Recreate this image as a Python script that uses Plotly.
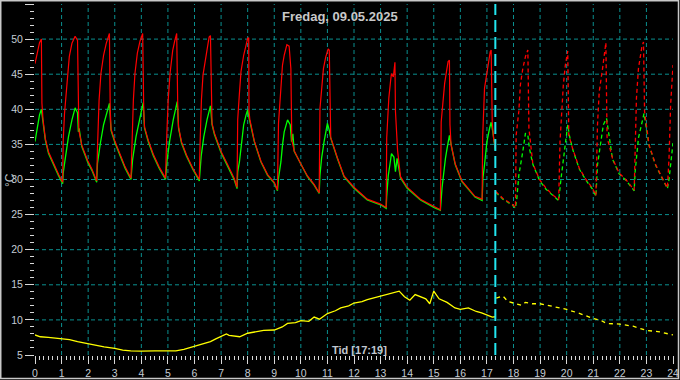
import plotly.graph_objects as go

# ---------------- data ----------------
TITLE = "Fredag, 09.05.2025"
X_LABEL = "Tid [17:19]"
Y_LABEL = "°C"
CURSOR_HOUR = 17 + 19 / 60

X_TICKS = list(range(0, 25))
Y_TICKS = list(range(5, 60, 5))

# measured top sensor (red)
red_hours = [0.00, 0.08, 0.17, 0.24, 0.26, 0.30, 0.39, 0.51, 0.70, 0.89, 1.04,
             1.06, 1.11, 1.20, 1.29, 1.39, 1.51, 1.60, 1.63, 1.65, 1.76, 1.98, 2.14, 2.32,
             2.35, 2.41, 2.48, 2.58, 2.68, 2.76, 2.80, 2.83, 2.86, 3.01, 3.20, 3.39, 3.61,
             3.64, 3.70, 3.76, 3.85, 3.95, 4.05, 4.09, 4.12, 4.26, 4.45, 4.67, 4.91,
             4.95, 5.01, 5.08, 5.18, 5.26, 5.33, 5.37, 5.40, 5.51, 5.70, 5.95, 6.18,
             6.21, 6.26, 6.32, 6.45, 6.55, 6.60, 6.63, 6.66, 6.75, 7.00, 7.25, 7.50, 7.60,
             7.625, 7.69, 7.75, 7.85, 7.94, 8.00, 8.04, 8.05, 8.08, 8.25, 8.50, 8.75, 9.00, 9.12,
             9.16, 9.21, 9.25, 9.31, 9.375, 9.475, 9.56, 9.625, 9.66, 9.75, 10.0, 10.25, 10.5, 10.69,
             10.72, 10.78, 10.85, 10.94, 11.03, 11.07, 11.10, 11.125, 11.375, 11.625, 12.0, 12.5, 13.0, 13.21,
             13.23, 13.28, 13.31, 13.38, 13.41, 13.48, 13.54, 13.56, 13.64, 13.75, 14.0, 14.5, 15.02, 15.25,
             15.28, 15.34, 15.41, 15.48, 15.54, 15.59, 15.61, 15.65, 15.81, 16.06, 16.31, 16.55, 16.82,
             16.84, 16.91, 17.04, 17.125, 17.16, 17.20, 17.25, 17.29, 17.317]
red_values = [46.5, 48.0, 49.5, 50.0, 40.9, 38.6, 35.8, 33.9, 32.2, 30.7, 29.6,
              35.4, 39.4, 43.7, 47.5, 49.4, 50.4, 49.8, 44.0, 37.0, 34.9, 32.7, 31.5, 29.8,
              34.4, 41.3, 45.1, 47.7, 49.4, 50.6, 50.8, 40.0, 37.2, 35.4, 33.5, 31.8, 30.2,
              34.4, 41.3, 45.1, 48.0, 49.7, 50.8, 40.0, 37.5, 35.6, 33.6, 31.8, 30.2,
              35.6, 41.3, 45.1, 48.4, 49.8, 50.8, 40.5, 37.5, 35.4, 33.5, 31.5, 30.0,
              35.2, 41.3, 44.9, 48.0, 50.3, 50.5, 40.0, 38.0, 36.6, 34.0, 32.1, 30.1, 28.9,
              38.5, 42.3, 45.4, 47.7, 49.2, 50.1, 50.2, 39.8, 38.6, 35.5, 32.6, 30.7, 29.6, 28.5,
              38.0, 40.6, 43.5, 46.3, 47.7, 49.2, 49.0, 45.8, 35.6, 34.1, 32.2, 30.5, 29.3, 28.1,
              40.1, 43.0, 45.8, 47.5, 48.6, 48.4, 36.3, 36.0, 33.1, 30.5, 28.9, 27.2, 26.5, 26.0,
              35.9, 39.2, 41.6, 44.2, 45.1, 44.6, 46.7, 39.7, 34.1, 30.4, 28.9, 27.2, 26.1, 25.7,
              38.2, 41.1, 43.7, 45.4, 46.8, 47.0, 37.8, 35.0, 32.2, 29.8, 28.6, 27.6, 27.2,
              36.0, 43.0, 46.3, 48.2, 48.45, 38.2, 35.9, 34.7, 34.5]

# measured bottom sensor (green)
green_hours = [0.00, 0.08, 0.17, 0.24, 0.30, 0.39, 0.51, 0.70, 0.89, 1.04,
               1.06, 1.15, 1.26, 1.39, 1.51, 1.60, 1.63, 1.66, 1.76, 1.98, 2.14, 2.32,
               2.35, 2.46, 2.58, 2.80, 2.86, 3.01, 3.20, 3.39, 3.61,
               3.67, 3.80, 3.95, 4.07, 4.12, 4.26, 4.45, 4.67, 4.91,
               4.97, 5.07, 5.20, 5.35, 5.40, 5.51, 5.70, 5.95, 6.18,
               6.25, 6.35, 6.47, 6.60, 6.66, 6.75, 7.00, 7.25, 7.50, 7.60,
               7.625, 7.69, 7.75, 7.85, 7.94, 8.00, 8.05, 8.25, 8.50, 8.75, 9.00, 9.12,
               9.16, 9.25, 9.31, 9.375, 9.50, 9.60, 9.65, 9.70, 9.75, 10.0, 10.25, 10.5, 10.69,
               10.72, 10.78, 10.875, 11.0, 11.07, 11.125, 11.375, 11.625, 12.0, 12.5, 13.0, 13.21,
               13.23, 13.29, 13.35, 13.41, 13.50, 13.56, 13.62, 13.75, 14.0, 14.5, 15.02, 15.25,
               15.31, 15.375, 15.44, 15.50, 15.59, 15.65, 15.81, 16.06, 16.31, 16.55, 16.82,
               16.85, 16.91, 17.00, 17.10, 17.16, 17.22, 17.29, 17.317]
green_values = [35.4, 37.0, 39.2, 40.0, 38.4, 35.6, 33.7, 32.0, 30.5, 29.4,
                30.9, 33.3, 36.1, 38.5, 40.2, 39.5, 36.8, 37.3, 34.7, 32.5, 31.3, 29.6,
                32.3, 35.2, 37.8, 40.85, 37.0, 35.2, 33.3, 31.6, 30.0,
                32.8, 36.1, 39.0, 40.95, 37.3, 35.4, 33.4, 31.6, 30.0,
                32.8, 35.6, 38.5, 41.1, 37.3, 35.2, 33.3, 31.35, 29.8,
                33.3, 36.1, 38.5, 40.5, 37.8, 36.4, 33.8, 31.9, 29.9, 28.7,
                31.1, 32.5, 34.4, 37.8, 39.2, 39.9, 38.8, 35.4, 32.5, 30.6, 29.5, 28.4,
                30.2, 32.5, 34.9, 36.8, 38.5, 37.8, 35.4, 36.5, 34.0, 32.1, 30.4, 29.2, 28.0,
                30.6, 33.0, 35.4, 38.0, 37.0, 35.9, 33.0, 30.4, 28.75, 27.1, 26.4, 25.9,
                27.6, 30.6, 32.1, 33.7, 33.2, 31.1, 33.0, 30.2, 28.75, 27.1, 26.0, 25.6,
                28.75, 31.35, 33.0, 34.4, 36.3, 35.0, 32.1, 29.7, 28.5, 27.5, 27.0,
                30.2, 32.1, 35.4, 37.3, 38.15, 36.8, 34.4, 34.2]

# forecast top sensor (red, dashed)
red_fc_hours = [17.33, 17.6, 17.975, 18.075, 18.10, 18.2, 18.26, 18.35, 18.45, 18.54, 18.58,
                18.725, 18.975, 19.225, 19.475, 19.7, 19.75, 19.825, 19.875, 19.95, 20.04, 20.08,
                20.225, 20.475, 20.725, 20.975, 21.1, 21.16, 21.225, 21.35, 21.475, 21.52,
                21.725, 21.975, 22.225, 22.54, 22.575, 22.625, 22.7, 22.825, 22.89, 22.93,
                23.1, 23.35, 23.6, 23.79, 23.85, 23.91, 24.0]
red_fc_values = [28.3, 27.3, 26.4, 26.0, 36.3, 39.7, 43.5, 45.8, 47.5, 48.45, 37.3,
                 32.3, 30.0, 28.75, 27.8, 27.1, 35.4, 40.1, 43.5, 46.3, 48.3, 36.3,
                 34.4, 31.6, 30.0, 28.75, 27.7, 37.8, 42.5, 45.8, 49.5, 36.0,
                 33.0, 30.9, 30.0, 28.5, 35.4, 41.6, 45.8, 48.8, 49.6, 39.7,
                 34.9, 32.1, 30.2, 28.8, 33.0, 40.6, 46.3]

# forecast bottom sensor (green, dashed)
green_fc_hours = [17.33, 17.6, 17.975, 18.075, 18.125, 18.2, 18.35, 18.45, 18.54, 18.6,
                  18.725, 18.975, 19.225, 19.475, 19.7, 19.79, 19.9, 20.04, 20.1,
                  20.225, 20.475, 20.725, 20.975, 21.1, 21.16, 21.29, 21.38, 21.5,
                  21.725, 21.975, 22.225, 22.54, 22.575, 22.7, 22.85, 22.91,
                  23.1, 23.35, 23.6, 23.79, 23.85, 24.0]
green_fc_values = [28.2, 27.2, 26.3, 25.9, 27.3, 30.6, 34.0, 36.6, 36.3, 34.4,
                   32.2, 29.9, 28.6, 27.7, 27.0, 30.2, 33.5, 37.8, 36.3,
                   34.3, 31.5, 29.9, 28.6, 27.6, 32.1, 35.4, 37.8, 38.7,
                   32.9, 30.8, 29.9, 28.4, 31.1, 35.9, 38.7, 39.4,
                   34.8, 32.0, 30.1, 28.7, 30.0, 35.2]

# outdoor temperature (yellow)
yellow_hours = [0.0, 0.2, 0.5, 0.8, 1.0, 1.3, 1.6, 2.0, 2.3, 2.6, 3.0, 3.3, 3.6, 4.0, 4.5,
                5.0, 5.3, 5.6, 6.0, 6.3, 6.6, 6.8, 7.0, 7.2, 7.3, 7.5, 7.7, 8.0, 8.3, 8.6,
                9.0, 9.3, 9.5, 9.8, 10.0, 10.3, 10.5, 10.7, 11.0, 11.3, 11.5, 11.8, 12.0,
                12.3, 12.5, 12.7, 13.0, 13.2, 13.5, 13.7, 13.9, 14.1, 14.3, 14.5, 14.7,
                14.85, 15.0, 15.2, 15.5, 15.8, 16.0, 16.3, 16.6, 16.8, 17.0, 17.2, 17.317]
yellow_values = [7.85, 7.6, 7.5, 7.35, 7.3, 7.2, 6.9, 6.6, 6.35, 6.15, 5.95, 5.7, 5.6, 5.55, 5.6,
                 5.65, 5.6, 5.8, 6.2, 6.5, 6.9, 7.3, 7.6, 8.0, 7.8, 7.7, 7.6, 8.1, 8.3, 8.5,
                 8.56, 9.0, 9.5, 9.6, 9.9, 9.8, 10.4, 10.1, 10.9, 11.3, 11.7, 12.0, 12.4,
                 12.6, 12.9, 13.1, 13.3, 13.6, 13.8, 14.1, 13.3, 12.8, 13.6, 13.3, 13.0,
                 12.3, 14.1, 13.0, 12.5, 11.7, 11.5, 11.7, 11.2, 11.0, 10.7, 10.4, 10.45]

yellow_fc_hours = [17.35, 17.6, 17.8, 18.0, 18.3, 18.45, 18.7, 19.0, 19.5, 20.0, 20.5,
                   21.0, 21.3, 21.5, 22.0, 22.5, 23.0, 23.5, 24.0]
yellow_fc_values = [13.1, 13.4, 12.6, 12.4, 12.1, 12.5, 12.3, 12.3, 11.9, 11.5, 10.9,
                    10.2, 9.9, 9.5, 9.4, 9.1, 8.5, 8.3, 7.85]

# ---------------- figure ----------------
RED = "#ff0000"
GREEN = "#00ff00"
YELLOW = "#ffff00"
GRID = "#0a8f8f"
TXT = "#c4ccd4"
FONT = "Liberation Sans"

fig = go.Figure()
fig.add_trace(go.Scatter(x=yellow_hours, y=yellow_values, mode="lines",
                         line=dict(color=YELLOW, width=1.3)))
fig.add_trace(go.Scatter(x=yellow_fc_hours, y=yellow_fc_values, mode="lines",
                         line=dict(color=YELLOW, width=1.3, dash="4px,4px")))
fig.add_trace(go.Scatter(x=green_hours, y=green_values, mode="lines",
                         line=dict(color=GREEN, width=1.3)))
fig.add_trace(go.Scatter(x=red_hours, y=red_values, mode="lines",
                         line=dict(color=RED, width=1.2)))
fig.add_trace(go.Scatter(x=green_fc_hours, y=green_fc_values, mode="lines",
                         line=dict(color=GREEN, width=1.3, dash="4px,3px")))
fig.add_trace(go.Scatter(x=red_fc_hours, y=red_fc_values, mode="lines",
                         line=dict(color=RED, width=1.3, dash="4px,3px")))

shapes = []
for h in X_TICKS[1:-1]:
    shapes.append(dict(type="line", xref="x", yref="paper", x0=h, x1=h, y0=0, y1=1,
                       line=dict(color=GRID, width=1, dash="4px,3px"), layer="below"))
for v in Y_TICKS[1:-1]:
    shapes.append(dict(type="line", xref="paper", yref="y", x0=0, x1=1, y0=v, y1=v,
                       line=dict(color=GRID, width=1, dash="4px,3px"), layer="below"))
shapes.append(dict(type="line", xref="x", yref="paper", x0=CURSOR_HOUR, x1=CURSOR_HOUR,
                   y0=0, y1=1, line=dict(color="#22e6f0", width=2, dash="12px,5px")))

W, H = 680, 380
ML, MR, MT, MB = 35, 7, 4, 25
PW, PH = W - ML - MR, H - MT - MB
shapes.append(dict(type="rect", xref="paper", yref="paper",
                   x0=(0.75 - ML) / PW, x1=(678.5 - ML) / PW,
                   y0=1 - (378.5 - MT) / PH, y1=1 - (0.75 - MT) / PH,
                   line=dict(color="#c8c8c8", width=1.5)))

fig.update_layout(
    width=W, height=H,
    margin=dict(l=ML, r=MR, t=MT, b=MB, autoexpand=False),
    paper_bgcolor="#000000", plot_bgcolor="#000000",
    showlegend=False,
    shapes=shapes,
    font=dict(family=FONT, color=TXT, size=10),
    annotations=[
        dict(text=TITLE, xref="paper", yref="paper", x=(340 - ML) / PW, y=1 - (17 - MT) / PH,
             xanchor="center", yanchor="middle", showarrow=False,
             font=dict(family=FONT, size=13, color="#c8c8c8", weight="bold")),
        dict(text=X_LABEL, xref="paper", yref="paper", x=(359 - ML) / PW, y=1 - (349.5 - MT) / PH,
             xanchor="center", yanchor="middle", showarrow=False,
             font=dict(family=FONT, size=11, color="#c0c8d0", weight="bold")),
        dict(text=Y_LABEL, xref="paper", yref="paper", x=(10 - ML) / PW, y=1 - (180 - MT) / PH,
             xanchor="center", yanchor="middle", showarrow=False, textangle=-90,
             font=dict(family=FONT, size=12, color="#b8c0c8")),
    ],
)
fig.update_xaxes(range=[0, 24], tickvals=X_TICKS, showgrid=False, zeroline=False, automargin=False,
                 showline=False, ticks="outside", ticklen=8, tickwidth=1, tickcolor="#d8d8d8",
                 tickfont=dict(family=FONT, size=10.5, color=TXT),
                 minor=dict(dtick=1 / 6, tick0=0, ticks="outside", ticklen=4,
                            tickcolor="#d8d8d8", showgrid=False))
fig.update_yaxes(range=[5, 55], tickvals=Y_TICKS, showgrid=False, zeroline=False, automargin=False,
                 showline=False, ticks="outside", ticklen=9, tickwidth=1, tickcolor="#d8d8d8",
                 tickfont=dict(family=FONT, size=10.5, color=TXT),
                 minor=dict(dtick=1, tick0=0, ticks="outside", ticklen=4,
                            tickcolor="#d8d8d8", showgrid=False))

fig.write_html("out.html", config={"displayModeBar": False},
               post_script="document.body.style.margin='0';document.body.style.padding='0';"
                           "document.body.style.background='#000';")
